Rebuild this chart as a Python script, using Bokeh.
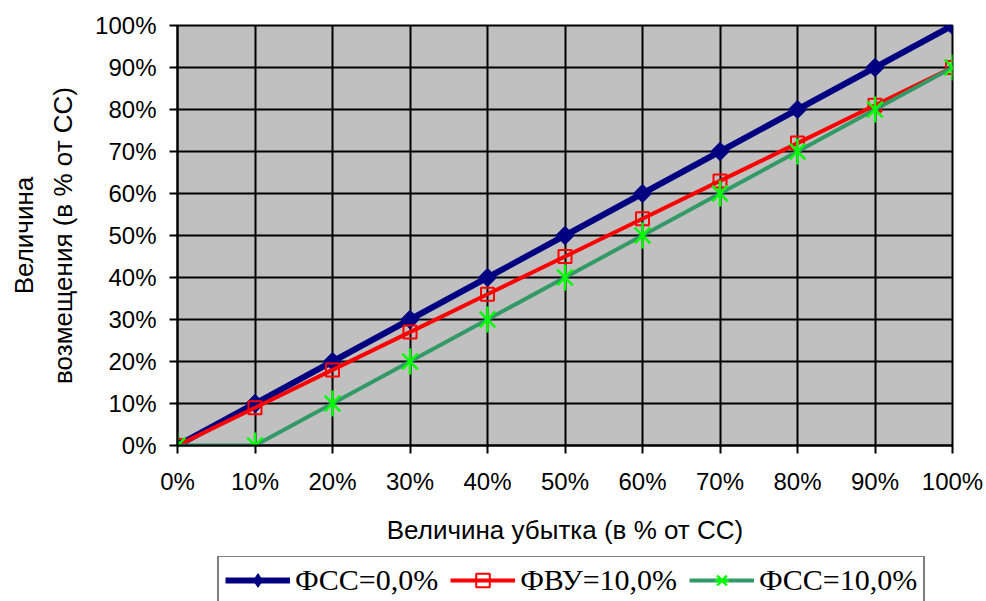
import math
from bokeh.plotting import figure
from bokeh.layouts import column
from bokeh.models import (Range1d, FixedTicker, PrintfTickFormatter, Legend,
                          LegendItem, Title)
from bokeh.embed import file_html
from bokeh.resources import INLINE

# ---- data ----
loss_pct = [0, 10, 20, 30, 40, 50, 60, 70, 80, 90, 100]
fss_0 = [0, 10, 20, 30, 40, 50, 60, 70, 80, 90, 100]
fvu_10 = [0, 9, 18, 27, 36, 45, 54, 63, 72, 81, 90]
fss_10 = [0, 0, 10, 20, 30, 40, 50, 60, 70, 80, 90]
tick_vals = [0, 10, 20, 30, 40, 50, 60, 70, 80, 90, 100]
series_names = ["ФСС=0,0%", "ФВУ=10,0%", "ФСС=10,0%"]

NAVY, RED, SEA, LIME = "#000080", "#ff0000", "#339966", "#00ff00"


def add_series(fig, for_legend=False):
    l1 = fig.line(loss_pct, fss_0, line_color=NAVY, line_width=6)
    if for_legend:
        m1 = fig.scatter(loss_pct, fss_0, marker="diamond", size=16,
                         fill_color=NAVY, line_color=NAVY, line_width=1)
    else:
        m1 = fig.scatter(loss_pct, fss_0, marker="square", angle=math.pi / 4,
                         size=13, fill_color=NAVY, line_color=NAVY, line_width=1)
    l2 = fig.line(loss_pct, fvu_10, line_color=RED, line_width=4)
    m2 = fig.scatter(loss_pct, fvu_10, marker="square", size=13,
                     fill_color=None, line_color=RED, line_width=2)
    l3 = fig.line(loss_pct, fss_10, line_color=SEA, line_width=4)
    m3a = fig.scatter(loss_pct, fss_10, marker="x", size=22,
                      line_color=LIME, line_width=2.5)
    m3b = fig.scatter(loss_pct, fss_10, marker="dash", angle=math.pi / 2, size=26,
                      line_color=LIME, line_width=2.5)
    return [[l1, m1], [l2, m2], [l3, m3a, m3b]]


p = figure(width=986, height=556, output_backend="svg", toolbar_location=None,
           x_range=Range1d(0, 100), y_range=Range1d(0, 100),
           min_border_left=177, min_border_right=34, min_border_top=25,
           min_border_bottom=111)

p.background_fill_color = "#c0c0c0"
p.border_fill_color = "white"
p.outline_line_color = "black"
p.outline_line_width = 2

for ax in (p.xaxis[0], p.yaxis[0]):
    ax.ticker = FixedTicker(ticks=tick_vals)
    ax.formatter = PrintfTickFormatter(format="%d%%")
    ax.axis_line_color = "black"
    ax.axis_line_width = 2
    ax.major_tick_in = 0
    ax.major_tick_out = 8
    ax.major_tick_line_width = 2
    ax.major_tick_line_color = "black"
    ax.minor_tick_line_color = None
    ax.major_label_text_font = "Liberation Sans"
    ax.major_label_text_font_size = "24px"
    ax.major_label_text_color = "black"
    ax.axis_label_text_font = "Liberation Sans"
    ax.axis_label_text_font_size = "26px"
    ax.axis_label_text_font_style = "normal"
    ax.axis_label_text_color = "black"

p.xaxis.major_label_standoff = 14
p.yaxis.major_label_standoff = 13
p.xaxis.axis_label = "Величина убытка (в % от СС)"
p.xaxis.axis_label_standoff = 17
p.yaxis.axis_label = "возмещения (в % от СС)"
p.yaxis.axis_label_standoff = 14

for g in (p.xgrid[0], p.ygrid[0]):
    g.ticker = FixedTicker(ticks=tick_vals)
    g.grid_line_color = "black"
    g.grid_line_width = 2

add_series(p)

title_outer = Title(text="Величина", align="center", text_font="Liberation Sans",
                    text_font_size="26px", text_font_style="normal",
                    text_color="black", standoff=13)
p.add_layout(title_outer, "left")

# ---- legend strip (separate figure, same series, range away from data) ----
p2 = figure(width=986, height=45, output_backend="svg", toolbar_location=None,
            x_range=Range1d(-1000, -999), y_range=Range1d(-1000, -999),
            x_axis_location=None, y_axis_location=None,
            min_border=0, min_border_left=0, min_border_right=0,
            min_border_top=0, min_border_bottom=0)
p2.xgrid.visible = False
p2.ygrid.visible = False
p2.outline_line_color = None
p2.background_fill_color = "white"
p2.border_fill_color = "white"
groups = add_series(p2, for_legend=True)

legend = Legend(items=[LegendItem(label=n, renderers=r)
                       for n, r in zip(series_names, groups)],
                orientation="horizontal", location=(40, -4))
legend.label_text_font = "Liberation Serif"
legend.label_text_font_size = "30px"
legend.label_text_color = "black"
legend.glyph_width = 65
legend.glyph_height = 34
legend.label_standoff = 5
legend.spacing = 12
legend.padding = 6
legend.margin = 0
legend.border_line_color = "black"
legend.border_line_width = 2
legend.background_fill_color = "white"
legend.background_fill_alpha = 1.0
p2.add_layout(legend)

layout = column(p, p2, spacing=0)
open("out.html", "w").write(file_html(layout, INLINE))
